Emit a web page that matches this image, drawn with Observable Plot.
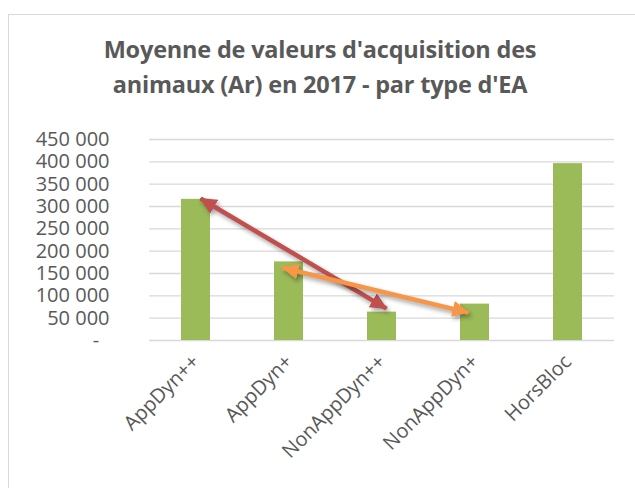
<!DOCTYPE html>
<html>
<head>
<meta charset="utf-8">
<script src="https://cdn.jsdelivr.net/npm/d3@7"></script>
<script src="https://cdn.jsdelivr.net/npm/@observablehq/plot@0.6"></script>
<style>
  html, body { margin: 0; padding: 0; background: #fff; overflow: hidden; }
  body { width: 635px; height: 488px; position: relative; font-family: "Open Sans", sans-serif; }
  #frame { position: absolute; left: 8px; top: 14px; width: 700px; height: 600px; border: 1px solid #d9d9d9; box-sizing: border-box; }
  #title { position: absolute; left: 0; top: 32px; width: 640px; text-align: center; font-family: "Open Sans", sans-serif; font-weight: bold; font-size: 23.5px; line-height: 35px; color: #595959; letter-spacing: -0.2px; }
  #chart { position: absolute; left: 0; top: 120px; }
  #chart g[aria-label="link"] { filter: drop-shadow(2px 3px 2px rgba(0,0,0,0.35)); }
</style>
</head>
<body>
<div id="frame"></div>
<div id="title">Moyenne de valeurs d'acquisition des<br>animaux (Ar) en 2017 - par type d'EA</div>
<div id="chart"></div>
<script>
// Data
const categories = ["AppDyn++", "AppDyn+", "NonAppDyn++", "NonAppDyn+", "HorsBloc"];
const values = [316000, 176000, 63500, 81500, 396000];
const yTicks = [0, 50000, 100000, 150000, 200000, 250000, 300000, 350000, 400000, 450000];
const yTickLabels = ["-", "50 000", "100 000", "150 000", "200 000", "250 000", "300 000", "350 000", "400 000", "450 000"];
// Arrows (double-headed), from category/value to category/value
const redArrowFrom = ["AppDyn++", 318000];
const redArrowTo = ["NonAppDyn++", 71500];
const orangeArrowFrom = ["AppDyn+", 163000];
const orangeArrowTo = ["NonAppDyn+", 62500];

const data = categories.map((c, i) => ({cat: c, value: values[i]}));
const redArrow = [{x1: redArrowFrom[0], y1: redArrowFrom[1], x2: redArrowTo[0], y2: redArrowTo[1]}];
const orangeArrow = [{x1: orangeArrowFrom[0], y1: orangeArrowFrom[1], x2: orangeArrowTo[0], y2: orangeArrowTo[1]}];

function triMarker(color) {
  const ns = "http://www.w3.org/2000/svg";
  const m = document.createElementNS(ns, "marker");
  m.setAttribute("viewBox", "0 -9 17 18");
  m.setAttribute("markerUnits", "userSpaceOnUse");
  m.setAttribute("markerWidth", "17");
  m.setAttribute("markerHeight", "18");
  m.setAttribute("refX", "16");
  m.setAttribute("refY", "0");
  m.setAttribute("orient", "auto-start-reverse");
  const p = document.createElementNS(ns, "path");
  p.setAttribute("d", "M0,-8L17,0L0,8Z");
  p.setAttribute("fill", color);
  p.setAttribute("stroke", "none");
  m.appendChild(p);
  return m;
}

const plot = Plot.plot({
  width: 635,
  height: 368,
  marginLeft: 149,
  marginRight: 21,
  marginTop: 19,
  marginBottom: 148,
  style: {fontFamily: "Open Sans, sans-serif", fontSize: "20px", color: "#595959", background: "transparent", overflow: "visible"},
  x: {domain: categories, paddingInner: 0.69, paddingOuter: 0.345, tickRotate: -45, tickSize: 0, tickPadding: 18, label: null},
  y: {domain: [0, 450000], ticks: yTicks, tickFormat: d => { const s = yTickLabels[yTicks.indexOf(d)]; return d === 0 ? s + "\u00a0\u00a0" : s; }, tickSize: 0, tickPadding: 40, label: null},
  marks: [
    Plot.ruleY(yTicks, {stroke: "#d9d9d9", strokeWidth: 1.3}),
    Plot.barY(data, {x: "cat", y: "value", fill: "#9bbb59"}),
    Plot.link(redArrow, {x1: "x1", y1: "y1", x2: "x2", y2: "y2", dx: 4.5, stroke: "#c0504d", strokeWidth: 4.5, markerStart: triMarker, markerEnd: triMarker}),
    Plot.link(orangeArrow, {x1: "x1", y1: "y1", x2: "x2", y2: "y2", dx: -6.5, stroke: "#f79646", strokeWidth: 4.5, markerStart: triMarker, markerEnd: triMarker})
  ]
});
document.getElementById("chart").appendChild(plot);
</script>
</body>
</html>
